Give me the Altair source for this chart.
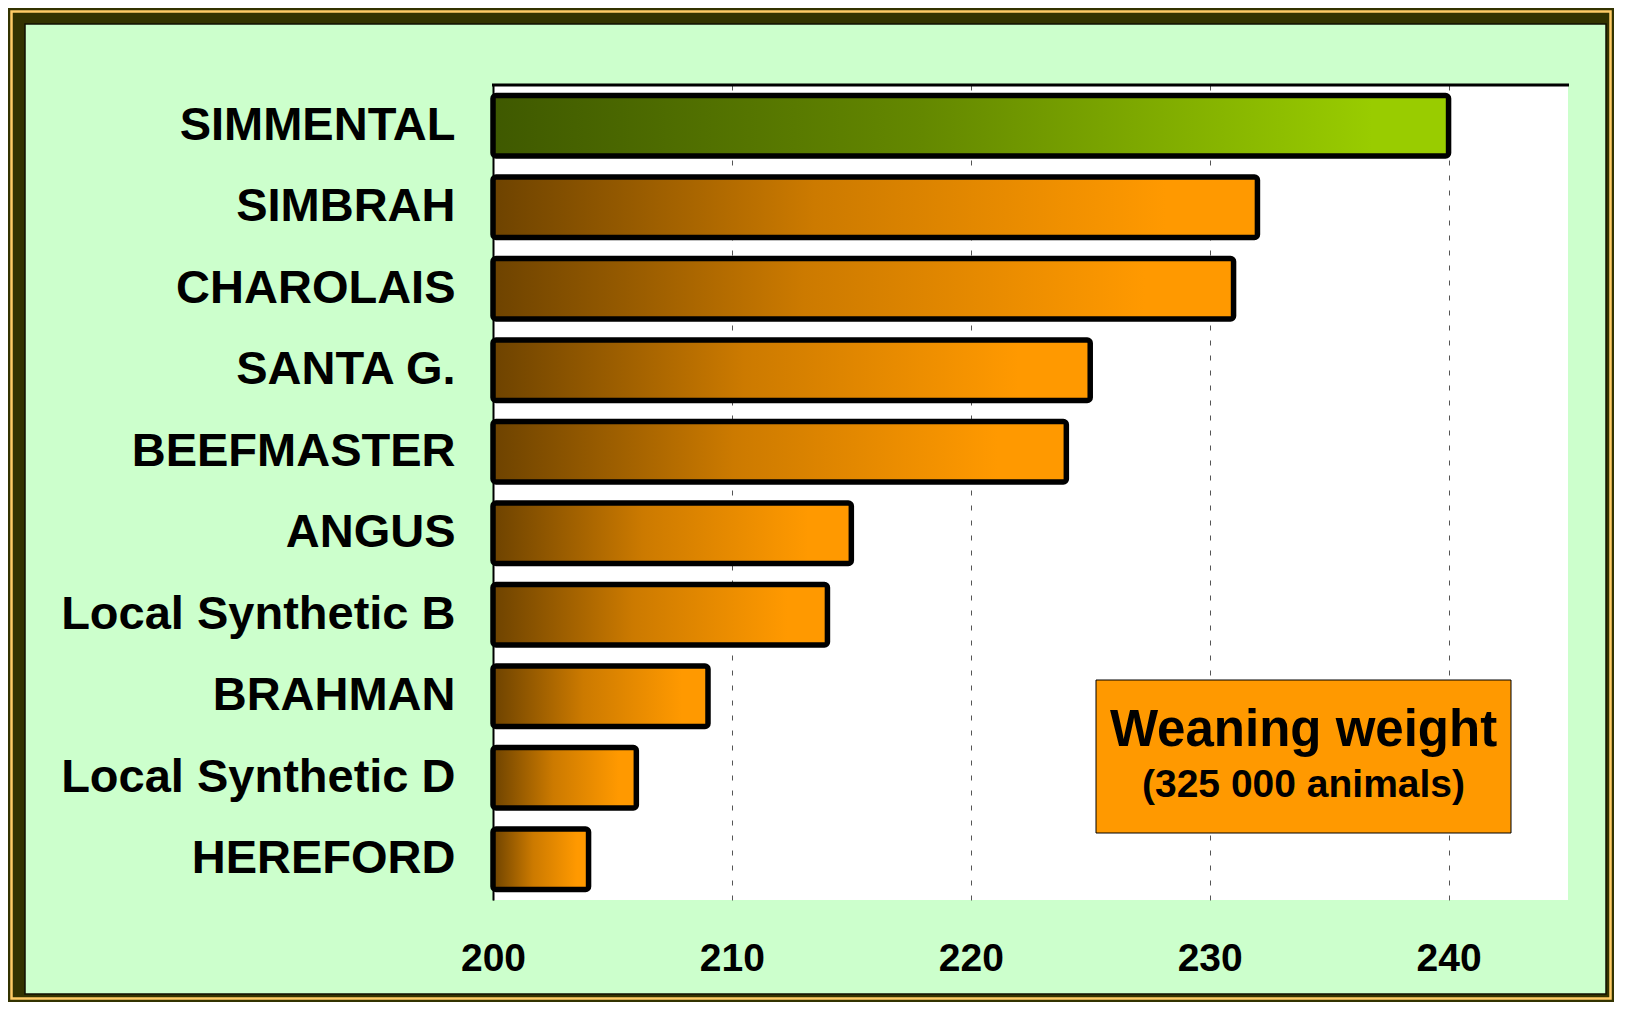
import altair as alt
import pandas as pd

breeds = ["SIMMENTAL", "SIMBRAH", "CHAROLAIS", "SANTA G.", "BEEFMASTER",
          "ANGUS", "Local Synthetic B", "BRAHMAN", "Local Synthetic D", "HEREFORD"]
weights = [240, 232, 231, 225, 224, 215, 214, 209, 206, 204]
x_ticks = [200, 210, 220, 230, 240]
x_domain = [200, 245]
highlight = "SIMMENTAL"
box_title = "Weaning weight"
box_sub = "(325 000 animals)"

df = pd.DataFrame({"breed": breeds, "weight": weights})
one = pd.DataFrame({"a": [0]})

W, H = 1075, 815
FONT = "Liberation Sans"

orange_grad = alt.Gradient(
    gradient="linear", x1=0, x2=1, y1=0, y2=0,
    stops=[alt.GradientStop(color="#6E4300", offset=0),
           alt.GradientStop(color="#CC7A00", offset=0.42),
           alt.GradientStop(color="#FF9900", offset=0.88),
           alt.GradientStop(color="#FF9900", offset=1)])
green_grad = alt.Gradient(
    gradient="linear", x1=0, x2=1, y1=0, y2=0,
    stops=[alt.GradientStop(color="#3F5900", offset=0),
           alt.GradientStop(color="#648800", offset=0.45),
           alt.GradientStop(color="#99CC00", offset=0.92),
           alt.GradientStop(color="#99CC00", offset=1)])

xscale = alt.Scale(domain=x_domain, zero=False, nice=False)
yscale = alt.Scale(domain=breeds, paddingInner=0.26, paddingOuter=0.13)

xenc = alt.X("weight:Q", scale=xscale,
             axis=alt.Axis(values=x_ticks, grid=True, gridDash=[5, 10],
                           gridColor="#555555", gridWidth=1, domain=False,
                           ticks=False, labelFlush=False, labelPadding=39,
                           labelFont=FONT, labelFontWeight="bold",
                           labelFontSize=39, labelColor="#000000", title=None))
yenc = alt.Y("breed:N", scale=yscale, sort=breeds,
             axis=alt.Axis(ticks=False, domainColor="#000000", domainWidth=2,
                           labelPadding=38, labelFont=FONT,
                           labelFontWeight="bold", labelFontSize=47,
                           labelColor="#000000", labelLimit=1000,
                           grid=False, title=None))

base = alt.Chart(df)
bars_orange = base.transform_filter(alt.datum.breed != highlight).mark_bar(
    fill=orange_grad, stroke="#000000", strokeWidth=5.5, cornerRadius=3
).encode(x=xenc, x2=alt.datum(200), y=yenc)
bars_green = base.transform_filter(alt.datum.breed == highlight).mark_bar(
    fill=green_grad, stroke="#000000", strokeWidth=5.5, cornerRadius=3
).encode(x=xenc, x2=alt.datum(200), y=yenc)

top_rule = alt.Chart(one).mark_rule(color="#000000", strokeWidth=3).encode(
    x=alt.value(-1), x2=alt.value(W + 1), y=alt.value(0))


def rect(x, x2, y, y2, **kw):
    return alt.Chart(one).mark_rect(**kw).encode(
        x=alt.value(x), x2=alt.value(x2), y=alt.value(y), y2=alt.value(y2))


box = rect(603, 1018, 595, 748, fill="#FF9900", stroke="#000000", strokeWidth=1)
t1 = alt.Chart(one).mark_text(font=FONT, fontWeight="bold", fontSize=51,
                               align="center", baseline="alphabetic",
                               color="#000000").encode(
    x=alt.value(810.5), y=alt.value(661), text=alt.value(box_title))
t2 = alt.Chart(one).mark_text(font=FONT, fontWeight="bold", fontSize=39,
                               align="center", baseline="alphabetic",
                               color="#000000").encode(
    x=alt.value(810.5), y=alt.value(712), text=alt.value(box_sub))

DARK = "#333300"
frame = [
    rect(-485, -468, -77, 917, fill=DARK),
    rect(1113, 1121, -77, 917, fill=DARK),
    rect(-485, 1121, -77, -61, fill=DARK),
    rect(-485, 1121, 909, 917, fill=DARK),
    rect(-481.5, 1117.5, -73.5, 913.5, filled=False, stroke="#FFCC66", strokeWidth=2.5),
    rect(-468, 1113, -61, 909, filled=False, stroke="#111100", strokeWidth=1.5),
]

chart = alt.layer(bars_orange, bars_green, top_rule, box, t1, t2, *frame).properties(
    width=W, height=H,
    background="#CCFFCC",
    padding={"left": 485, "top": 77, "right": 46, "bottom": 102},
    autosize=alt.AutoSizeParams(type="none"),
).configure_view(stroke=None, fill="#FFFFFF")

chart.save("out.html", embed_options={"renderer": "svg", "actions": False})
